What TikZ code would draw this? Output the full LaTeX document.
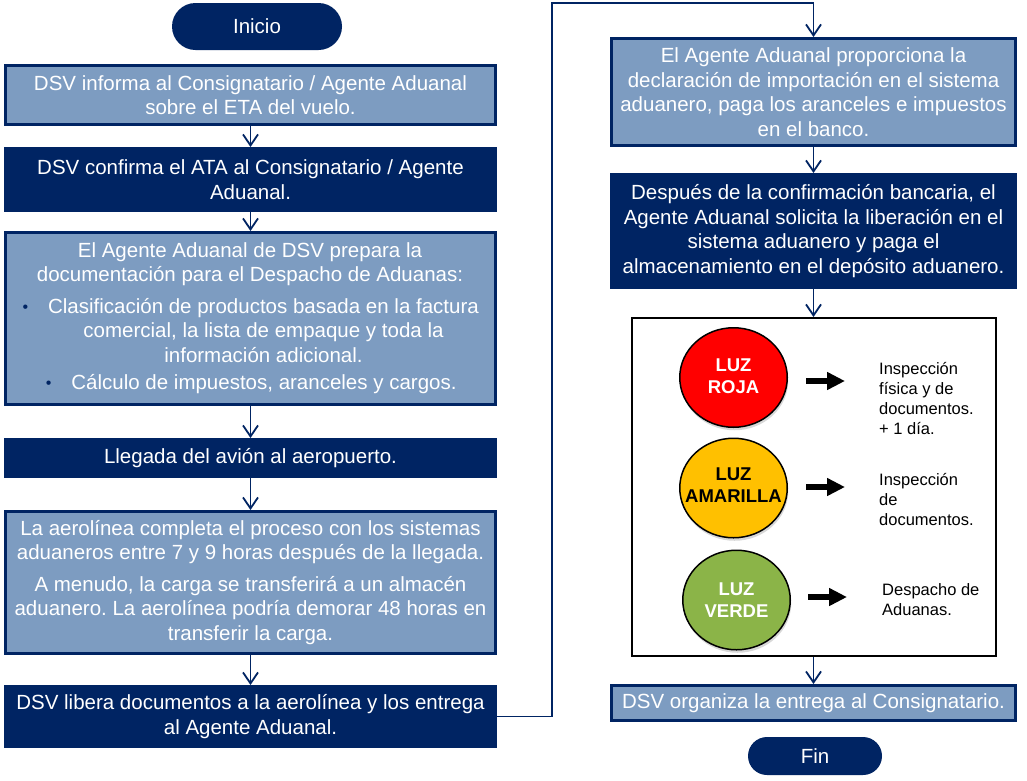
\documentclass[tikz,border=0pt]{standalone}
\usepackage{fontspec}
\setmainfont{Liberation Sans}
\usetikzlibrary{arrows.meta,shapes.geometric,shadows}
\definecolor{navy}{RGB}{0,36,99}
\definecolor{lightb}{RGB}{125,156,193}
\definecolor{tlred}{RGB}{255,0,0}
\definecolor{tlyellow}{RGB}{255,192,0}
\definecolor{tlgreen}{RGB}{139,180,72}
\newcommand{\mybul}{\llap{\raisebox{0.5pt}{\textcolor{navy}{\fontsize{16}{16}\selectfont\textbullet}}\hspace{20pt}}}
\frenchspacing
\begin{document}
\begin{tikzpicture}[x=1pt,y=-1pt,
 boxbase/.style={rectangle, draw=navy, line width=3pt, inner sep=0pt, text=white, align=center, font=\fontsize{20.5}{24.5}\selectfont},
 lightbox/.style={boxbase, fill=lightb},
 darkbox/.style={boxbase, fill=navy},
 pill/.style={rectangle, fill=navy, inner sep=0pt, text=white, font=\fontsize{20.5}{24.5}\selectfont},
 conn/.style={draw=navy, line width=1.8pt, -{Straight Barb[length=11pt,width=15pt]}},
 boxtext/.style={text=white, align=center, inner sep=0pt, font=\fontsize{20.5}{24.5}\selectfont},
 lamp/.style={ellipse, draw=black, line width=1.5pt, minimum width=107.5pt, minimum height=99.5pt, inner sep=0pt, drop shadow={opacity=0.3, shadow xshift=1pt, shadow yshift=-3pt}},
 lamptext/.style={align=center, inner sep=0pt, font=\bfseries\fontsize{18.5}{22}\selectfont},
 sidetext/.style={anchor=west, align=left, inner sep=0pt, font=\fontsize{16.5}{20}\selectfont},
 bigarrow/.style={draw=black, line width=6pt, -{Triangle[length=18pt,width=17pt]}},
]
\useasboundingbox[fill=white] (0,0) rectangle (1027,780);

% start
\node[pill, minimum width=170pt, minimum height=47pt, rounded corners=23.5pt] (ini) at (257,26.5) {Inicio};

% left column
\node[lightbox, minimum width=490pt, minimum height=59pt] (b1) at (250.5,95) {DSV informa al Consignatario / Agente Aduanal\\sobre el ETA del vuelo.};
\node[darkbox, minimum width=490pt, minimum height=62pt] (b2) at (250.5,179.5) {DSV confirma el ATA al Consignatario / Agente\\Aduanal.};
\node[lightbox, minimum width=490pt, minimum height=172pt] (b3) at (250.5,318.5) {};
\node[boxtext] (b3a) at (250,264) {El Agente Aduanal de DSV prepara la\\documentación para el Despacho de Aduanas:};
\node[boxtext] (b3b) at (263.5,330.5) {\mybul Clasificación de productos basada en la factura\\comercial, la lista de empaque y toda la\\información adicional.};
\node[boxtext] (b3c) at (264,384) {\mybul Cálculo de impuestos, aranceles y cargos.};
\node[darkbox, minimum width=490pt, minimum height=37pt] (b4) at (250.5,458) {Llegada del avión al aeropuerto.};
\node[lightbox, minimum width=490pt, minimum height=142pt] (b5) at (250.5,582.5) {La aerolínea completa el proceso con los sistemas\\aduaneros entre 7 y 9 horas después de la llegada.\\[7pt]A menudo, la carga se transferirá a un almacén\\aduanero. La aerolínea podría demorar 48 horas en\\transferir la carga.};
\node[darkbox, minimum width=490pt, minimum height=60pt] (b6) at (250.5,716.5) {DSV libera documentos a la aerolínea y los entrega\\al Agente Aduanal.};

% right column
\node[lightbox, minimum width=404pt, minimum height=107pt] (b7) at (813.5,92) {El Agente Aduanal proporciona la\\declaración de importación en el sistema\\aduanero, paga los aranceles e impuestos\\en el banco.};
\node[darkbox, minimum width=404pt, minimum height=113pt] (b8) at (813.5,231) {Después de la confirmación bancaria, el\\Agente Aduanal solicita la liberación en el\\sistema aduanero y paga el\\almacenamiento en el depósito aduanero.};
\node[rectangle, draw=black, line width=2pt, fill=white, minimum width=364pt, minimum height=338pt, inner sep=0pt] (tl) at (813.5,487) {};
\node[lightbox, minimum width=404pt, minimum height=35pt] (b9) at (813.5,703) {DSV organiza la entrega al Consignatario.};
\node[pill, minimum width=134pt, minimum height=38pt, rounded corners=19pt] (fin) at (815,756) {Fin};

% traffic lights
\node[lamp, fill=tlred] (red) at (733.5,377.5) {};
\node[lamptext, text=white] (redt) at (733.5,376.5) {LUZ\\ROJA};
\node[lamp, fill=tlyellow] (yel) at (733.5,488) {};
\node[lamptext, text=black] (yelt) at (733.5,485.5) {LUZ\\AMARILLA};
\node[lamp, fill=tlgreen] (grn) at (736.5,600) {};
\node[lamptext, text=white] (grnt) at (736.5,600) {LUZ\\VERDE};

\coordinate (ra1) at (806,381); \coordinate (ra2) at (845,381);
\coordinate (ya1) at (806,487); \coordinate (ya2) at (845,487);
\coordinate (ga1) at (808,597); \coordinate (ga2) at (847,597);
\draw[bigarrow] (ra1) -- (ra2);
\draw[bigarrow] (ya1) -- (ya2);
\draw[bigarrow] (ga1) -- (ga2);

\node[sidetext] (rtx) at (879,398) {Inspección\\física y de\\documentos.\\+ 1 día.};
\node[sidetext] (ytx) at (879,499) {Inspección\\de\\documentos.};
\node[sidetext] (gtx) at (882,599.5) {Despacho de\\Aduanas.};

% connectors
\draw[conn] (b1.south) -- (b2.north);
\draw[conn] (b2.south) -- (b3.north);
\draw[conn] (b3.south) -- (b4.north);
\draw[conn] (b4.south) -- (b5.north);
\draw[conn] (b5.south) -- (b6.north);
\coordinate (top) at (552,3);
\draw[conn] (b6.east) -| (top) -| (b7.north);
\draw[conn] (b7.south) -- (b8.north);
\draw[conn] (b8.south) -- (tl.north);
\draw[conn] (tl.south) -- (b9.north);
\end{tikzpicture}
\end{document}
